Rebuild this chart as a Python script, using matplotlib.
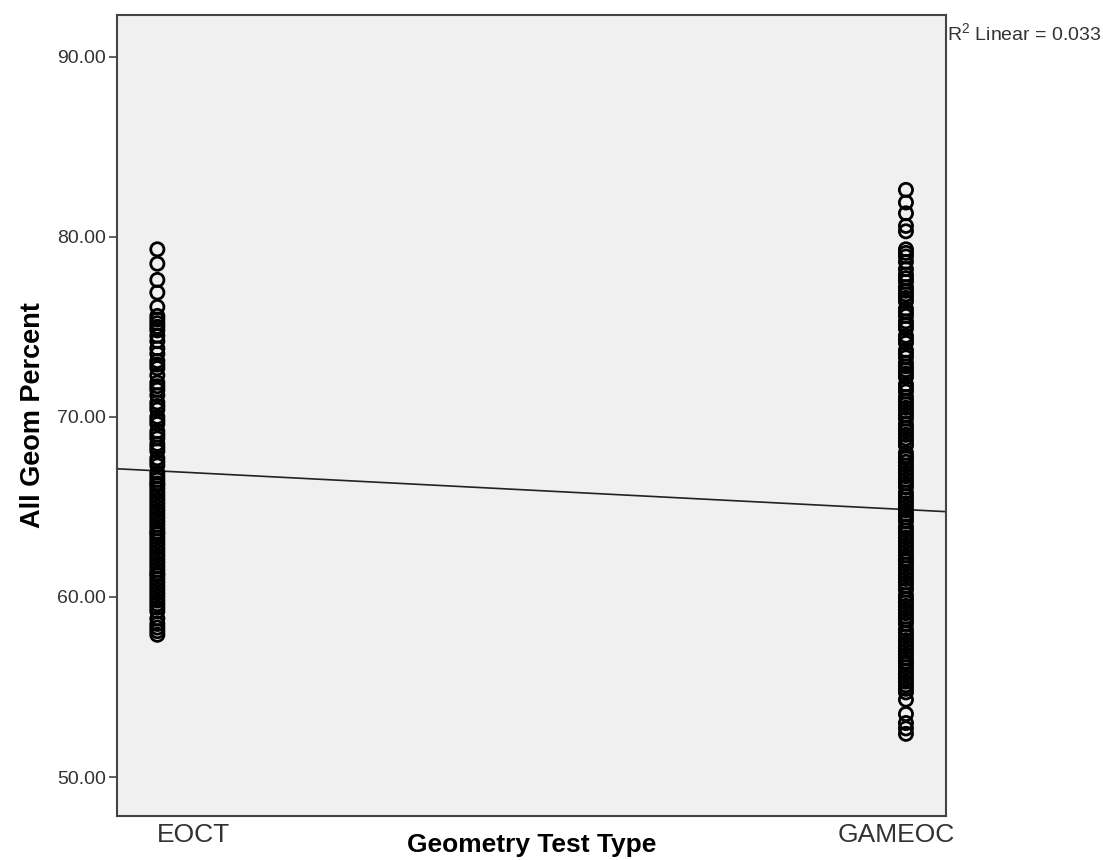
import matplotlib.pyplot as plt

plt.rcParams['font.family'] = ['Liberation Sans', 'DejaVu Sans']
plt.rcParams['mathtext.fontset'] = 'custom'
plt.rcParams['mathtext.rm'] = 'Liberation Sans'

categories = ["EOCT", "GAMEOC"]
y_ticks = [50, 60, 70, 80, 90]

# All Geom Percent for each test type
eoct_scores = [
    79.3, 78.5, 77.6, 76.9, 76.1, 75.6, 75.4, 75.2, 75.0, 74.8, 74.5, 74.2,
    73.8, 73.5, 73.1, 72.9, 72.7, 72.3, 71.9, 71.7, 71.5, 71.2, 70.8, 70.6,
    70.4, 70.0, 69.8, 69.6, 69.2, 69.0, 68.8, 68.5, 68.3, 68.1, 67.7, 67.5,
    67.3, 66.9, 66.7, 66.5, 66.3, 66.2, 66.0, 65.8, 65.6, 65.4, 65.2, 65.0,
    64.8, 64.6, 64.4, 64.2, 64.0, 63.8, 63.6, 63.5, 63.3, 63.1, 62.9, 62.7,
    62.5, 62.3, 62.1, 61.9, 61.7, 61.5, 61.3, 61.2, 61.0, 60.8, 60.6, 60.4,
    60.2, 60.0, 59.8, 59.6, 59.4, 59.2, 58.8, 58.5, 58.3, 58.1, 57.9,
]
gameoc_scores = [
    82.6, 81.9, 81.3, 80.6, 80.3, 79.3, 79.1, 78.9, 78.6, 78.2, 77.9, 77.7,
    77.5, 77.2, 77.0, 76.8, 76.6, 76.4, 76.0, 75.8, 75.6, 75.3, 75.1, 74.9,
    74.5, 74.3, 74.1, 73.7, 73.5, 73.3, 73.0, 72.8, 72.6, 72.4, 72.2, 71.8,
    71.6, 71.4, 71.1, 70.9, 70.7, 70.5, 70.3, 70.1, 69.9, 69.6, 69.4, 69.2,
    69.0, 68.8, 68.6, 68.4, 68.0, 67.8, 67.7, 67.5, 67.3, 67.1, 66.9, 66.7,
    66.5, 66.3, 66.1, 65.8, 65.6, 65.4, 65.2, 65.0, 64.8, 64.6, 64.4, 64.2,
    63.9, 63.7, 63.5, 63.3, 63.1, 62.9, 62.7, 62.5, 62.3, 62.1, 62.0, 61.8,
    61.6, 61.4, 61.2, 61.0, 60.8, 60.6, 60.4, 60.1, 59.9, 59.7, 59.5, 59.3,
    59.1, 58.9, 58.7, 58.5, 58.2, 58.0, 57.8, 57.6, 57.4, 57.2, 57.0, 56.8,
    56.6, 56.4, 56.3, 56.1, 55.9, 55.7, 55.5, 55.3, 55.1, 54.9, 54.7, 54.3,
    53.5, 53.0, 52.7, 52.4,
]

# linear fit line (test type coded 1 / 2)
fit_intercept = 69.15
fit_slope = -2.15
r_squared = 0.033

fig = plt.figure(figsize=(11.03, 8.60), dpi=100)
ax = fig.add_axes([0.106, 0.051, 0.752, 0.932])
ax.set_facecolor("#f0f0f0")

for code, scores in [(1, eoct_scores), (2, gameoc_scores)]:
    ax.scatter([code] * len(scores), scores, s=90, facecolors="none",
               edgecolors="black", linewidths=2.0, zorder=3)

xl = (0.946, 2.054)
ax.plot(xl, [fit_intercept + fit_slope * x for x in xl], color="#222222",
        linewidth=1.2, zorder=2)

ax.set_xlim(*xl)
ax.set_ylim(47.83, 92.33)
ax.set_xticks([1, 2])
ax.set_xticklabels([])
ax.tick_params(axis="x", length=0)
ax.set_yticks(y_ticks)
ax.set_yticklabels([f"{v:.2f}" for v in y_ticks], fontsize=14, color="#333333")
ax.tick_params(axis="y", length=6, width=1.2, color="#444444", pad=2)

# category labels under the axis
lab_tr = ax.get_xaxis_transform()
ax.text(1, -0.008, categories[0], transform=lab_tr, ha="left", va="top",
        fontsize=19, color="#333333")
ax.text(2.065, -0.008, categories[1], transform=lab_tr, ha="right", va="top",
        fontsize=19, color="#333333")

for sp in ax.spines.values():
    sp.set_color("#444444")
    sp.set_linewidth(1.5)

fig.text(0.482, 0.009, "Geometry Test Type", fontsize=19, fontweight="bold",
         ha="center", va="baseline")
ax.set_ylabel("All Geom Percent", fontsize=19.5, fontweight="bold", labelpad=8)

fig.text(0.859, 0.961, r"R$^{2}$ Linear = " + f"{r_squared:.3f}", fontsize=14,
         color="#333333", ha="left", va="center")

fig.savefig("out.png", dpi=100)
